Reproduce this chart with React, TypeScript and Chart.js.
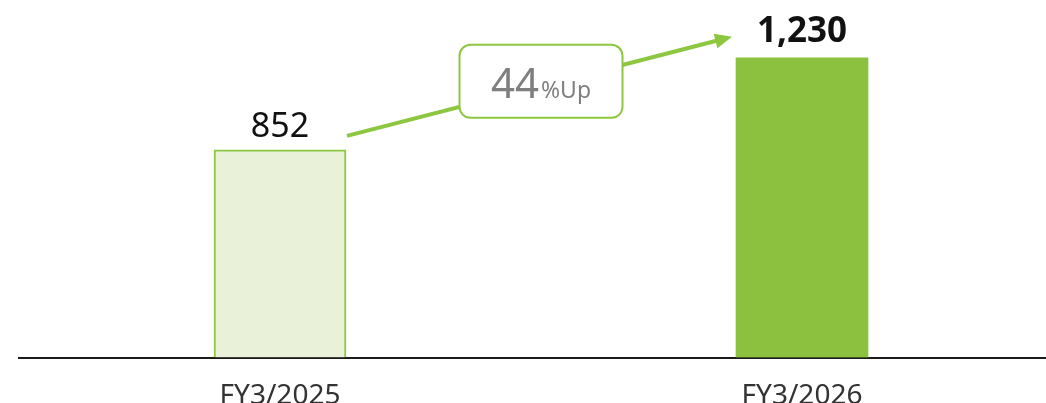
import React, { useEffect, useRef } from "react";
import { Chart, registerables } from "chart.js";

Chart.register(...registerables);

const categories = ["FY3/2025", "FY3/2026"];
const values = [852, 1230];
const valueLabels = ["852", "1,230"];
const growthNumber = "44";
const growthSuffix = "%Up";

const GREEN = "#8DC63F";
const BAR2 = "#8CC13F";
const BAR1_FILL = "#E9F2D9";
const FONT = "'Noto Sans', 'DejaVu Sans', sans-serif";

const annotPlugin = {
  id: "annot",
  afterDatasetsDraw(chart: any) {
    const ctx = chart.ctx as CanvasRenderingContext2D;
    const meta = chart.getDatasetMeta(0);
    const b1 = meta.data[0];
    const b2 = meta.data[1];
    const w1 = b1.width;
    const w2 = b2.width;

    // arrow
    const sx = b1.x + w1 / 2 + 1;
    const sy = b1.y - 14;
    const ex = b2.x - w2 / 2 - 4;
    const ey = b2.y - 21;
    const ang = Math.atan2(ey - sy, ex - sx);
    const headLen = 17;
    const headHalf = 7.5;
    ctx.save();
    ctx.strokeStyle = GREEN;
    ctx.fillStyle = GREEN;
    ctx.lineWidth = 4;
    ctx.beginPath();
    ctx.moveTo(sx, sy);
    ctx.lineTo(ex - Math.cos(ang) * (headLen - 2), ey - Math.sin(ang) * (headLen - 2));
    ctx.stroke();
    const bx = ex - Math.cos(ang) * headLen;
    const by = ey - Math.sin(ang) * headLen;
    ctx.beginPath();
    ctx.moveTo(ex, ey);
    ctx.lineTo(bx - Math.sin(ang) * headHalf, by + Math.cos(ang) * headHalf);
    ctx.lineTo(bx + Math.sin(ang) * headHalf, by - Math.cos(ang) * headHalf);
    ctx.closePath();
    ctx.fill();

    // box
    const cx = (sx + ex) / 2 + 1.5;
    const cy = (sy + ey) / 2 - 5;
    const bw = 163;
    const bh = 73;
    ctx.beginPath();
    (ctx as any).roundRect(cx - bw / 2, cy - bh / 2, bw, bh, 11);
    ctx.fillStyle = "#ffffff";
    ctx.fill();
    ctx.lineWidth = 2;
    ctx.strokeStyle = GREEN;
    ctx.stroke();

    // box text
    ctx.fillStyle = "#7F7F7F";
    ctx.textBaseline = "alphabetic";
    ctx.font = `42px ${FONT}`;
    const w44 = ctx.measureText(growthNumber).width;
    ctx.font = `23px ${FONT}`;
    const wSuf = ctx.measureText(growthSuffix).width;
    const gap = 2;
    const total = w44 + gap + wSuf;
    const tx = cx - total / 2;
    const baseY = cy + 17;
    ctx.textAlign = "left";
    ctx.font = `42px ${FONT}`;
    ctx.fillText(growthNumber, tx, baseY);
    ctx.font = `23px ${FONT}`;
    ctx.fillText(growthSuffix, tx + w44 + gap, baseY);

    // value labels
    ctx.fillStyle = "#111111";
    ctx.textAlign = "center";
    ctx.font = `34px ${FONT}`;
    ctx.fillText(valueLabels[0], b1.x, b1.y - 13);
    ctx.font = `bold 35px ${FONT}`;
    ctx.fillText(valueLabels[1], b2.x, b2.y - 16);
    ctx.restore();
  },
};

export default function App() {
  const ref = useRef<HTMLCanvasElement | null>(null);
  useEffect(() => {
    if (!ref.current) return;
    const chart = new Chart(ref.current, {
      type: "bar",
      data: {
        labels: categories,
        datasets: [
          {
            data: values,
            backgroundColor: [BAR1_FILL, BAR2],
            borderColor: [GREEN, BAR2],
            borderWidth: [2, 0],
            borderSkipped: "bottom",
            barThickness: 132,
          } as any,
        ],
      },
      options: {
        animation: false,
        responsive: false,
        devicePixelRatio: 1,
        layout: { padding: { left: 19, right: 3, top: 10, bottom: 0 } },
        plugins: { legend: { display: false }, tooltip: { enabled: false } },
        scales: {
          y: { display: false, min: 0, max: 1426 },
          x: {
            grid: { display: false, drawTicks: false },
            border: { display: true, color: "#1a1a1a", width: 2 },
            afterFit: (scale: any) => {
              scale.height = 45.5;
            },
            ticks: {
              color: "#333333",
              padding: 26,
              font: { family: "'Noto Sans', sans-serif", size: 28, lineHeight: 0.9 },
            },
          },
        },
      },
      plugins: [annotPlugin],
    });
    return () => chart.destroy();
  }, []);
  return (
    <div style={{ position: "fixed", left: 0, top: 0, width: 1046, height: 403, overflow: "hidden", background: "#fff" }}>
      <canvas ref={ref} width={1066} height={403} style={{ width: 1066, height: 403, display: "block" }} />
    </div>
  );
}
